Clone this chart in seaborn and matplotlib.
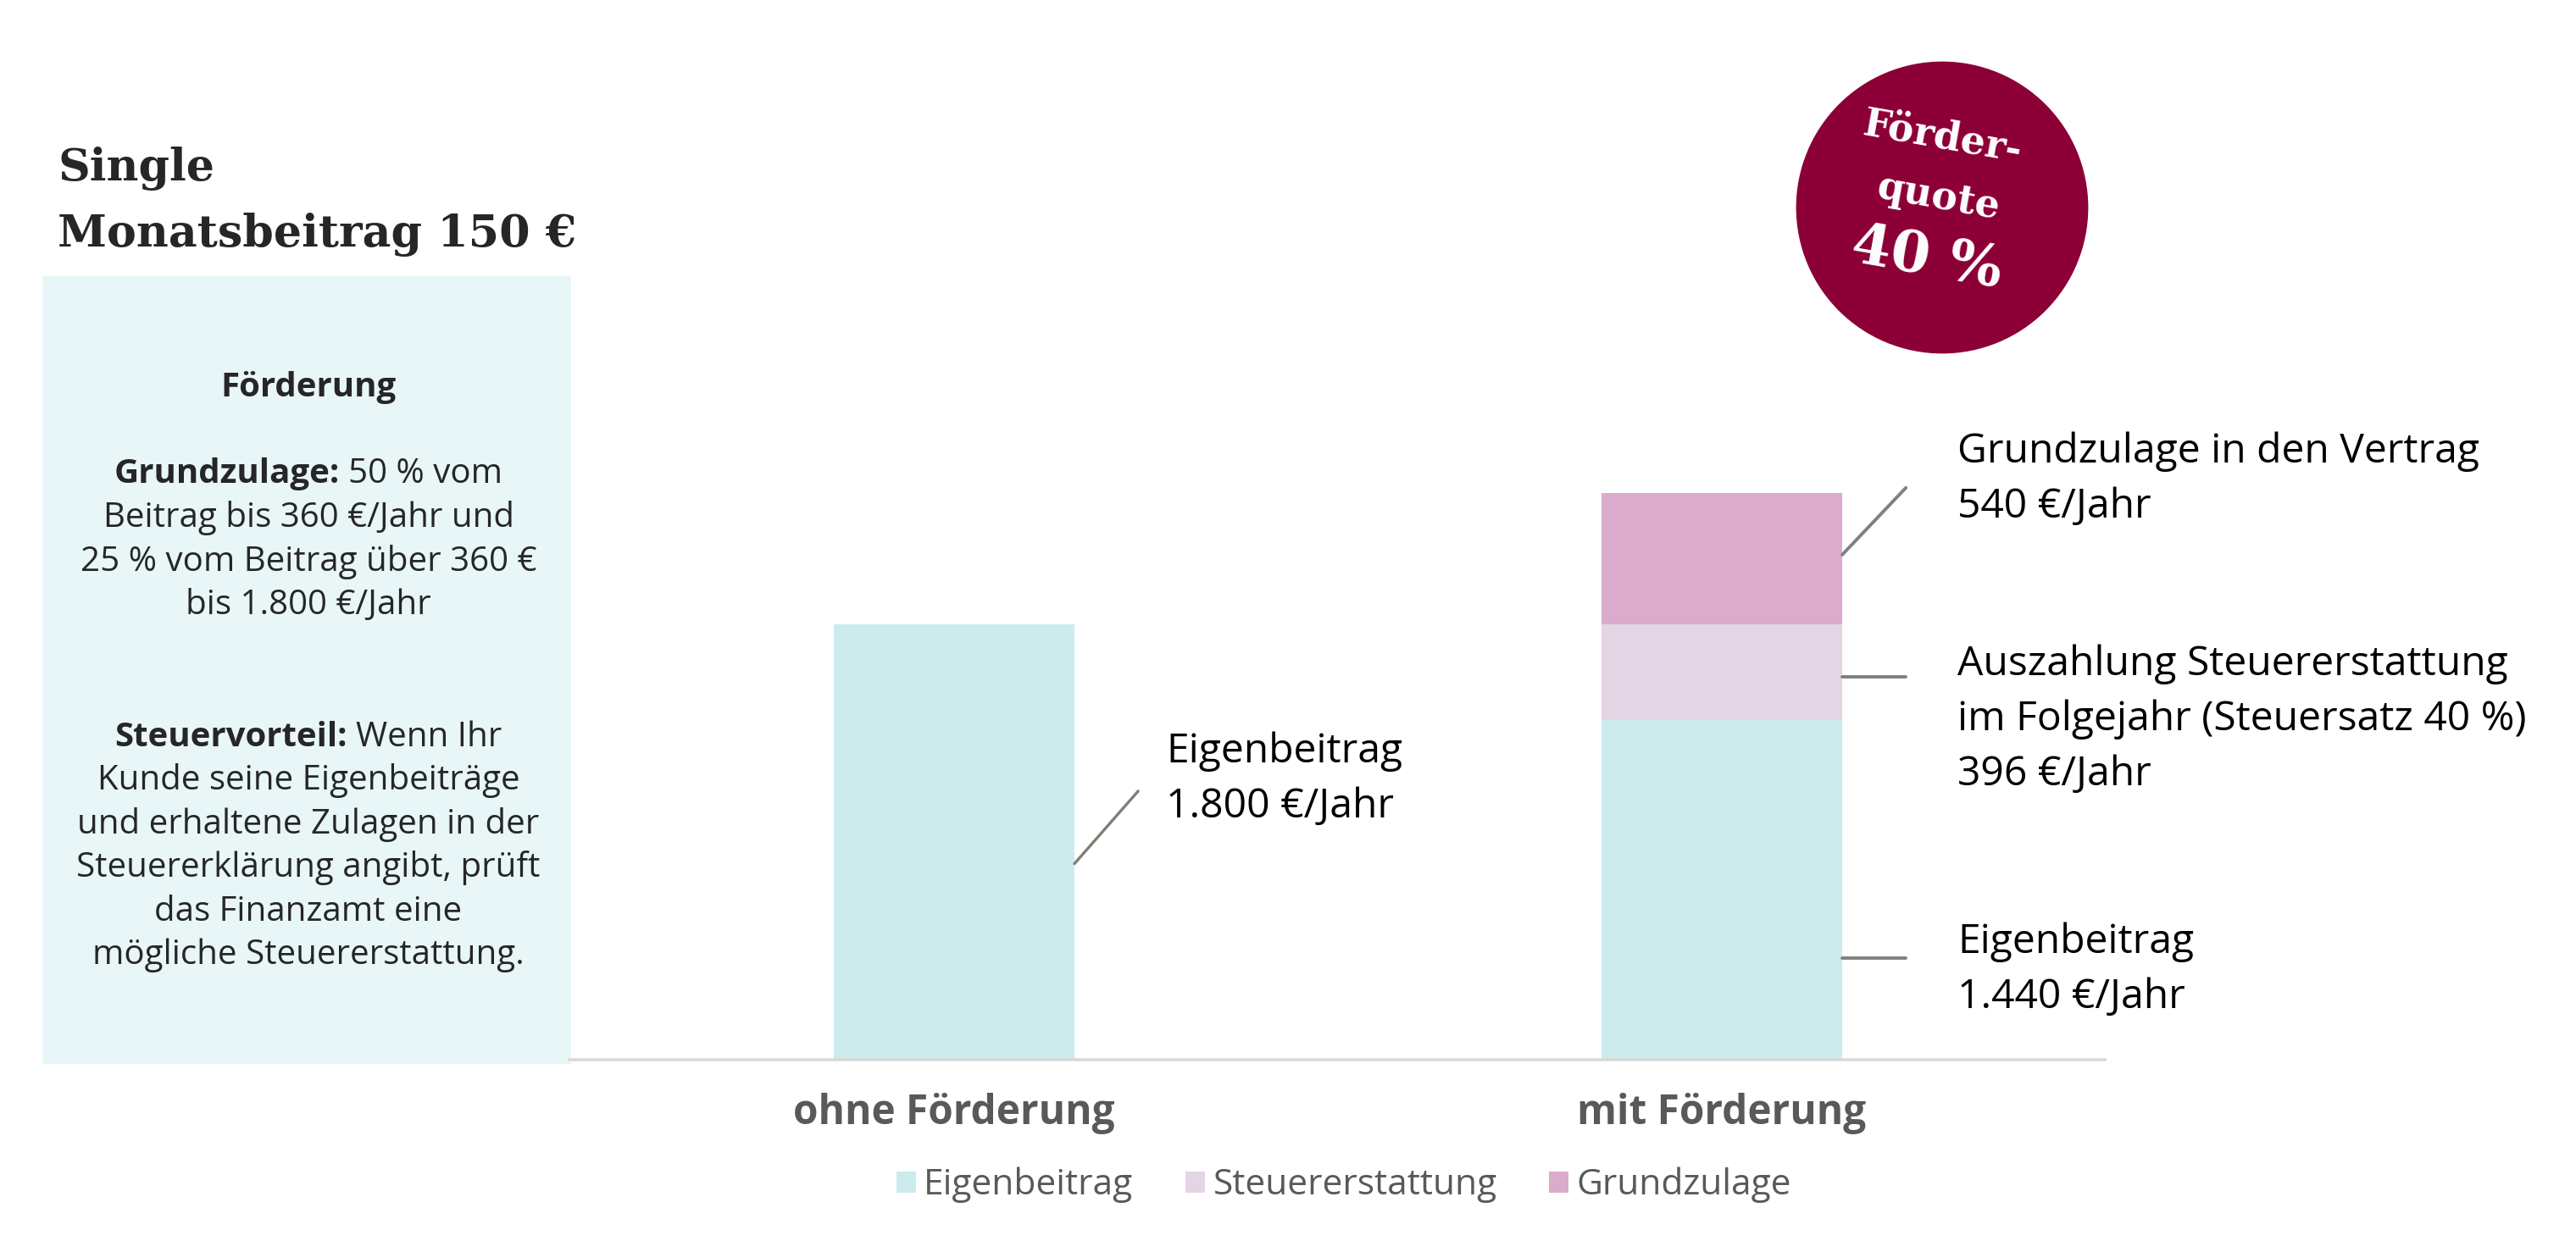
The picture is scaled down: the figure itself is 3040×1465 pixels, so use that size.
import matplotlib
matplotlib.use("Agg")
import matplotlib.pyplot as plt
from matplotlib.patches import Rectangle, Ellipse, Patch
import pandas as pd
import seaborn as sns

# Daten
categories = ["ohne Förderung", "mit Förderung"]
eigenbeitrag = [1800, 1404]
steuererstattung = [0, 396]
grundzulage = [0, 540]
series_names = ["Eigenbeitrag", "Steuererstattung", "Grundzulage"]
colors = ["#CBEBEC", "#E4D5E5", "#DBABCB"]

label_ohne = ["Eigenbeitrag", "1.800 €/Jahr"]
label_grund = ["Grundzulage in den Vertrag", "540 €/Jahr"]
label_steuer = ["Auszahlung Steuererstattung", "im Folgejahr (Steuersatz 40 %)", "396 €/Jahr"]
label_eigen = ["Eigenbeitrag", "1.440 €/Jahr"]

title_lines = ["Single", "Monatsbeitrag 150 €"]
badge_lines = ["Förder-", "quote", "40 %"]

W, H, DPI = 3040, 1465, 200
sns.set_theme(style="white")
plt.rcParams["font.family"] = ["Open Sans", "DejaVu Sans"]

fig = plt.figure(figsize=(W / DPI, H / DPI), dpi=DPI)


def fx(px):
    return px / W


def fy(py):
    return 1 - py / H


# Layout in Pixeln
ax_left, ax_right, ax_base, ax_top = 672, 2484, 1251, 251
bar_c0, bar_c1, bar_px = 1126, 2032, 284
unit = bar_c1 - bar_c0

# Hintergrund-Box links
fig.add_artist(Rectangle((fx(51), fy(1254)), fx(ax_left) - fx(51), fy(327) - fy(1254),
                         transform=fig.transFigure, color="#E8F6F7", zorder=0))

# Balken
ax = fig.add_axes([fx(ax_left), fy(ax_base), fx(ax_right) - fx(ax_left), fy(ax_top) - fy(ax_base)])
ax.set_facecolor("none")
df = pd.DataFrame({"Kategorie": categories, "Eigenbeitrag": eigenbeitrag,
                   "Steuererstattung": steuererstattung, "Grundzulage": grundzulage})
df["top1"] = df["Eigenbeitrag"]
df["top2"] = df["top1"] + df["Steuererstattung"]
df["top3"] = df["top2"] + df["Grundzulage"]

bar_w = bar_px / unit
for col, c in zip(["top3", "top2", "top1"], colors[::-1]):
    sns.barplot(data=df, x="Kategorie", y=col, color=c, saturation=1, width=bar_w,
                errorbar=None, linewidth=0, ax=ax)

ax.set_xlim(-(bar_c0 - ax_left) / unit, 1 + (ax_right - bar_c1) / unit)
ax.set_ylim(0, 3500)
ax.set_yticks([])
ax.set_xlabel("")
ax.set_ylabel("")
ax.set_xticks([0, 1])
ax.set_xticklabels(categories, fontsize=17.2, fontweight="bold", color="#595959")
ax.tick_params(axis="x", length=0, pad=14)
for s in ["left", "right", "top"]:
    ax.spines[s].set_visible(False)
ax.spines["bottom"].set_color("#D9D9D9")
ax.spines["bottom"].set_linewidth(1.3)

# Hinweislinien
half = bar_w / 2
lc = "#808080"
y0 = eigenbeitrag[0] * 0.45
ax.plot([half, half + 0.083], [y0, y0 + 300], color="#7F7F77", lw=1.2, clip_on=False)
y0 = df["top2"][1] + grundzulage[1] * 0.53
ax.plot([1 + half, 1 + half + 0.083], [y0, y0 + 277], color=lc, lw=1.4, clip_on=False)
y0 = eigenbeitrag[1] + steuererstattung[1] * 0.45
ax.plot([1 + half, 1 + half + 0.083], [y0, y0], color=lc, lw=1.4, clip_on=False)
y0 = eigenbeitrag[1] * 0.30
ax.plot([1 + half, 1 + half + 0.083], [y0, y0], color=lc, lw=1.4, clip_on=False)


def label(x, y, lines, step=65, size=17.3):
    for i, t in enumerate(lines):
        fig.text(fx(x), fy(y + i * step), t, fontsize=size, color="black", va="baseline")


label(1376, 900, label_ohne)
label(2310, 546, label_grund)
label(2310, 797, label_steuer)
label(2310, 1125, label_eigen)

# Titel
fig.text(fx(68), fy(213), title_lines[0], family="DejaVu Serif", fontweight="bold",
         fontsize=18.8, va="baseline")
fig.text(fx(68), fy(291), title_lines[1], family="DejaVu Serif", fontweight="bold",
         fontsize=18.8, va="baseline")

# Box-Text
renderer = fig.canvas.get_renderer()
box_cx = 364
box_size = 14.5


def centered(y, text, bold=False):
    fig.text(fx(box_cx), fy(y), text, fontsize=box_size, ha="center", va="baseline",
             fontweight="bold" if bold else "normal")


def mixed(y, bold_part, rest):
    t1 = fig.text(0, fy(y), bold_part, fontsize=box_size, fontweight="bold", va="baseline")
    t2 = fig.text(0, fy(y), rest, fontsize=box_size, va="baseline")
    w1 = t1.get_window_extent(renderer).width
    w2 = t2.get_window_extent(renderer).width
    gap = box_size * 0.26 * DPI / 72
    start = box_cx - (w1 + gap + w2) / 2
    t1.set_x(fx(start))
    t2.set_x(fx(start + w1 + gap))


centered(468, "Förderung", bold=True)
mixed(570, "Grundzulage:", "50 % vom")
centered(622, "Beitrag bis 360 €/Jahr und")
centered(674, "25 % vom Beitrag über 360 €")
centered(725, "bis 1.800 €/Jahr")
mixed(881, "Steuervorteil:", "Wenn Ihr")
centered(932, "Kunde seine Eigenbeiträge")
centered(984, "und erhaltene Zulagen in der")
centered(1035, "Steuererklärung angibt, prüft")
centered(1087, "das Finanzamt eine")
centered(1138, "mögliche Steuererstattung.")

# Förderquote-Kreis
fig.add_artist(Ellipse((fx(2292), fy(245)), 342 / W, 342 / H,
                       transform=fig.transFigure, color="#8C0037"))
for (x, y, size), t in zip([(2293, 162, 16.5), (2287, 233, 16.5), (2274, 305, 24)], badge_lines):
    fig.text(fx(x), fy(y), t, family="DejaVu Serif", fontweight="bold", fontsize=size,
             color="white", ha="center", va="center", rotation=-10, rotation_mode="anchor")

# Legende
handles = [Patch(facecolor=c, edgecolor="none") for c in colors]
fig.legend(handles, series_names, loc="center", bbox_to_anchor=(fx(1586), fy(1399)),
           ncol=3, frameon=False, fontsize=15.3, handlelength=0.54, handleheight=0.54,
           handletextpad=0.22, columnspacing=1.45, labelcolor="#595959")

fig.savefig("out.png", dpi=DPI)
